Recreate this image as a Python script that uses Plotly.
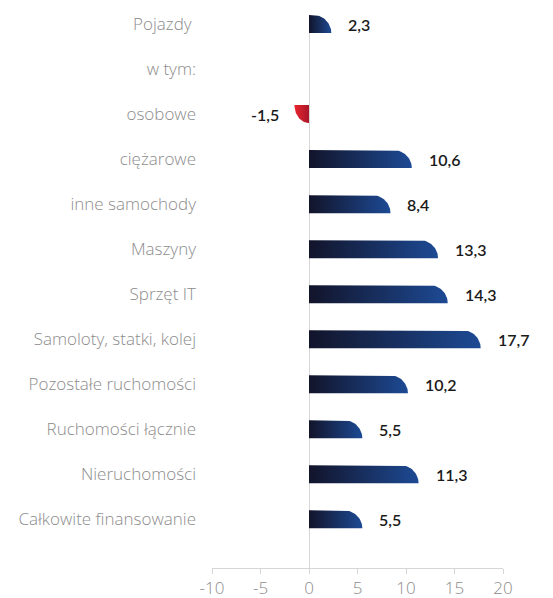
import numpy as np
import plotly.graph_objects as go

categories = ["Pojazdy ", "w tym:", "osobowe", "ciężarowe", "inne samochody", "Maszyny",
              "Sprzęt IT", "Samoloty, statki, kolej", "Pozostałe ruchomości",
              "Ruchomości łącznie", "Nieruchomości", "Całkowite finansowanie"]
values = [2.3, None, -1.5, 10.6, 8.4, 13.3, 14.3, 17.7, 10.2, 5.5, 11.3, 5.5]
value_labels = ["2,3", "", "-1,5", "10,6", "8,4", "13,3", "14,3", "17,7", "10,2", "5,5", "11,3", "5,5"]
x_ticks = [-10, -5, 0, 5, 10, 15, 20]

X_RANGE = [-10, 20]
Y_RANGE = [12.08, -0.2]
MARGIN = dict(l=212, r=50, t=15, b=30)
W, H = 553, 598
BAR_H = 0.4  # in category units

px_per_x = (W - MARGIN["l"] - MARGIN["r"]) / (X_RANGE[1] - X_RANGE[0])
px_per_y = (H - MARGIN["t"] - MARGIN["b"]) / abs(Y_RANGE[0] - Y_RANGE[1])
radius_px = BAR_H * px_per_y

pos_scale = [[0, "#12142a"], [1, "#1d4a94"]]
neg_scale = [[0, "#e8252d"], [1, "#a9172a"]]

fig = go.Figure()
t = np.linspace(0, np.pi / 2, 24)
for i, v in enumerate(values):
    if v is None:
        continue
    top, bot = i - BAR_H / 2, i + BAR_H / 2
    rx = min(radius_px / px_per_x, abs(v))
    ry = BAR_H
    if v >= 0:
        # rounded top-right corner
        ax = v - rx + rx * np.sin(t)
        ay = top + ry * (1 - np.cos(t))
        xs = [0, v - rx] + list(ax) + [v, 0, 0]
        ys = [top, top] + list(ay) + [bot, bot, top]
        scale = pos_scale
    else:
        # rounded bottom-left corner
        ax = v + rx - rx * np.cos(t)
        ay = top + ry * np.sin(t)
        xs = [0, v] + list(ax) + [0, 0]
        ys = [top, top] + list(ay) + [bot, top]
        scale = neg_scale
    fig.add_trace(go.Scatter(
        x=xs, y=ys, mode="lines", fill="toself", line=dict(width=0),
        fillgradient=dict(type="horizontal", colorscale=scale),
        hoverinfo="skip", showlegend=False))

for i, (v, lab) in enumerate(zip(values, value_labels)):
    if v is None:
        continue
    fig.add_annotation(
        x=v, y=i, text=lab, showarrow=False,
        xanchor="left" if v >= 0 else "right",
        xshift=15 if v >= 0 else -13,
        font=dict(family="Lato", size=16, color="#1a1a1a", weight=600))

label_font = dict(family="Open Sans", size=17, color="#8c8c8c", weight=300)
fig.update_layout(
    width=W, height=H, margin=MARGIN,
    plot_bgcolor="white", paper_bgcolor="white",
    xaxis=dict(range=X_RANGE, tickvals=x_ticks, ticktext=[str(v) for v in x_ticks],
               showgrid=False, zeroline=True, zerolinecolor="#d6d6d6", zerolinewidth=1,
               showline=True, linecolor="#d6d6d6", ticks="outside", tickcolor="#d6d6d6",
               ticklen=5, automargin=False, tickfont=label_font),
    yaxis=dict(range=Y_RANGE, tickvals=list(range(len(categories))), ticktext=categories,
               showgrid=False, zeroline=False, showline=False, ticks="",
               ticklabelstandoff=15, automargin=False, tickfont=label_font),
)
fig.write_html("out.html", config={"displayModeBar": False},
               post_script="document.body.style.margin='0';")
